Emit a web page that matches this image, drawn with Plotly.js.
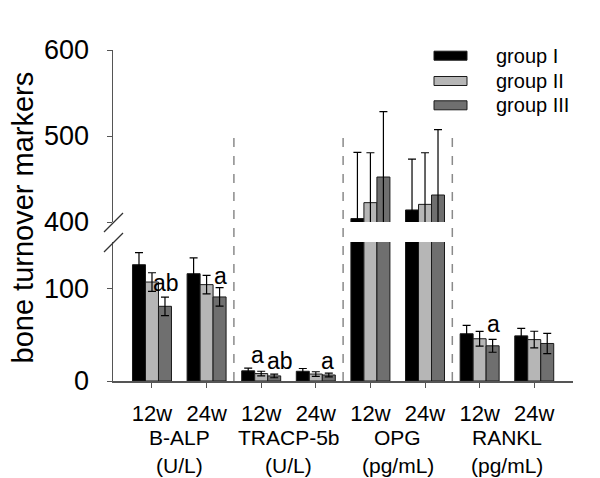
<!DOCTYPE html>
<html><head><meta charset="utf-8">
<script src="https://cdn.plot.ly/plotly-3.0.1.min.js"></script>
<style>html,body{margin:0;padding:0;background:#fff}</style>
</head><body><div id="chart" style="width:600px;height:478px"></div>
<script>
const categories = ["12w","24w","12w","24w","12w","24w","12w","24w"];
const markerNames = ["B-ALP","TRACP-5b","OPG","RANKL"];
const markerUnits = ["(U/L)","(U/L)","(pg/mL)","(pg/mL)"];
const seriesNames = ["group I","group II","group III"];
const groupI     = [125.5, 115.8, 11, 10.5, 404, 414, 51, 48.7];
const groupIErr  = [13, 17, 3, 3, 77, 59, 9, 8];
const groupII    = [106.8, 104, 8, 7.5, 422.5, 420.5, 45.6, 44.7];
const groupIIErr = [10, 10, 2.5, 2.5, 58, 60, 8, 9];
const groupIII   = [80.6, 90.7, 5.5, 6.5, 452.3, 431.4, 38, 40.5];
const groupIIIErr= [10, 10, 2, 2, 76, 76, 7, 11];
const sigText = ["ab","a","a","ab","a","a"];
const sigX = [0.26, 1.26, 1.93, 2.34, 3.22, 6.245];
const sigY = [105.7, 113.8, 28, 21.5, 21.5, 61.5];
const separators = [1.5, 3.5, 5.5];

const colors = ["#000000","#b6b6b6","#6f6f6f"];
const values = [groupI, groupII, groupIII];
const errs = [groupIErr, groupIIErr, groupIIIErr];
const xIdx = categories.map((c,i)=>i);
const FONT = "Liberation Sans, Arial, Helvetica, sans-serif";

const traces = [];
["y","y2"].forEach(ax=>{
  values.forEach((v,s)=>{
    traces.push({
      type:"bar", x:xIdx, y:v, yaxis:ax, name:seriesNames[s], showlegend:false,
      marker:{color:colors[s], line:{color:"#1a1a1a", width:1}},
      error_y:{type:"data", array:errs[s], visible:true, color:"#000", thickness:1.2, width:4}
    });
  });
});

const L=113, R=27, T=50, B=97, W=600, H=478;
const pw=W-L-R, ph=H-T-B;
const px=(x)=>(x-L)/pw, py=(y)=>(H-B-y)/ph;

const shapes = separators.map(s=>({type:"line", xref:"x", yref:"paper", x0:s, x1:s, y0:0, y1:py(130),
  line:{color:"#8a8a8a", width:1.5, dash:"dash"}}));
// axis break marks
shapes.push({type:"line", xref:"paper", yref:"paper", x0:px(104), x1:px(123), y0:py(232), y1:py(213), line:{color:"#333", width:1.2}});
shapes.push({type:"line", xref:"paper", yref:"paper", x0:px(104), x1:px(123), y0:py(252), y1:py(233), line:{color:"#333", width:1.2}});
// legend swatches
const legY=[55.7,81,105.3];
seriesNames.forEach((n,i)=>{
  shapes.push({type:"rect", xref:"paper", yref:"paper", x0:px(434), x1:px(467), y0:py(legY[i]+4.5), y1:py(legY[i]-4.5),
    fillcolor:colors[i], line:{color:"#1a1a1a", width:1}});
});

const annotations = [];
seriesNames.forEach((n,i)=>{
  annotations.push({xref:"paper", yref:"paper", x:px(494), y:py(legY[i]), text:n, showarrow:false,
    xanchor:"left", yanchor:"middle", font:{family:FONT, size:20, color:"#000"}});
});
sigText.forEach((t,i)=>{
  annotations.push({xref:"x", yref:"y", x:sigX[i], y:sigY[i], text:t, showarrow:false,
    xanchor:"center", yanchor:"middle", font:{family:FONT, size:23, color:"#000"}});
});
markerNames.forEach((m,i)=>{
  annotations.push({xref:"x", yref:"paper", x:2*i+0.5, y:py(437), text:m, showarrow:false,
    xanchor:"center", yanchor:"middle", font:{family:FONT, size:21, color:"#000"}});
  annotations.push({xref:"x", yref:"paper", x:2*i+0.5, y:py(465), text:markerUnits[i], showarrow:false,
    xanchor:"center", yanchor:"middle", font:{family:FONT, size:21, color:"#000"}});
});
annotations.push({xref:"paper", yref:"paper", x:px(22.5), y:py(218), text:"bone turnover markers", textangle:-90,
  showarrow:false, xanchor:"center", yanchor:"middle", font:{family:FONT, size:29, color:"#000"}});

const layout = {
  width:W, height:H, margin:{l:L, r:R, t:T, b:B, pad:0},
  paper_bgcolor:"#fff", plot_bgcolor:"#fff",
  barmode:"group", bargap:0.286, bargroupgap:0,
  showlegend:false,
  font:{family:FONT, color:"#000"},
  xaxis:{range:[-0.714,7.71], tickvals:xIdx, ticktext:categories, ticks:"outside", ticklen:5, tickcolor:"#555",
    showline:true, linecolor:"#555", linewidth:1.5, showgrid:false, zeroline:false, anchor:"y",
    tickfont:{size:22, family:FONT}, ticklabelstandoff:7},
  yaxis:{domain:[0, py(242)], range:[0,150], tickvals:[0,100], ticks:"outside", ticklen:5, tickcolor:"#555",
    showline:true, linecolor:"#555", linewidth:1.5, showgrid:false, zeroline:false, anchor:"x",
    tickfont:{size:27, family:FONT}, ticklabelstandoff:12},
  yaxis2:{domain:[py(222), 1], range:[400,600], tickvals:[400,500,600], ticks:"outside", ticklen:5, tickcolor:"#555",
    showline:true, linecolor:"#555", linewidth:1.5, showgrid:false, zeroline:false, anchor:"x",
    tickfont:{size:27, family:FONT}, ticklabelstandoff:12},
  shapes:shapes, annotations:annotations
};
Plotly.newPlot("chart", traces, layout, {displayModeBar:false, staticPlot:true});
</script></body></html>
